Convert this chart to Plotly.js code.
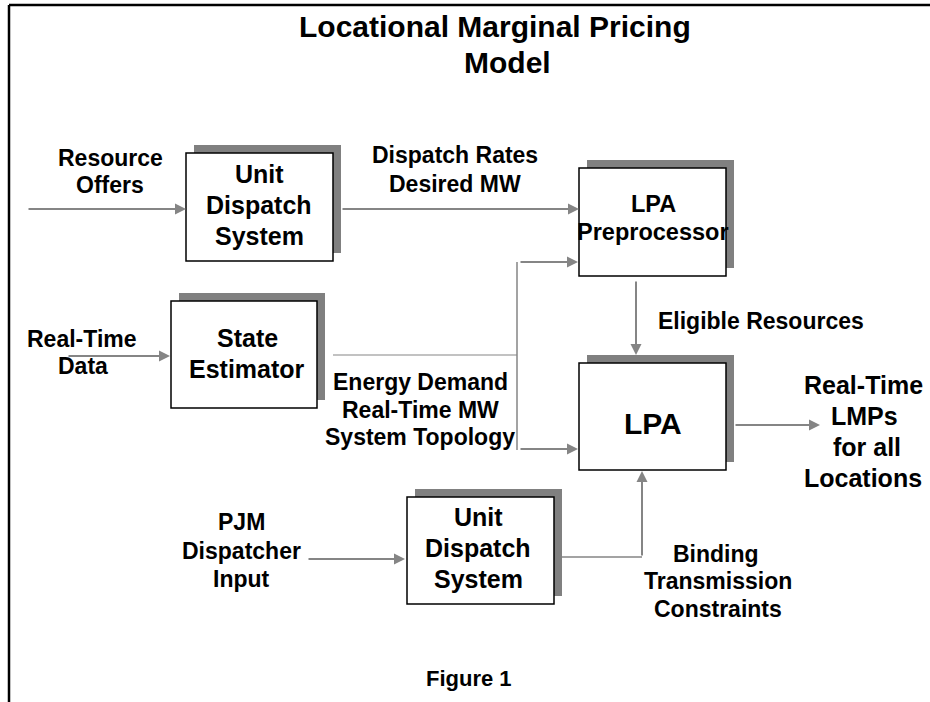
<!DOCTYPE html>
<html>
<head>
<meta charset="utf-8">
<script src="https://cdn.plot.ly/plotly-3.0.1.min.js"></script>
<style>html,body{margin:0;padding:0;background:#fff;}#chart{width:930px;height:702px;}</style>
</head>
<body>
<div id="chart"></div>
<script>
// ---- content (text of the diagram) ----
const titleLines = ["Locational Marginal Pricing", "Model"];
const boxTexts = [
  ["Unit", "Dispatch", "System"],
  ["LPA", "Preprocessor"],
  ["State", "Estimator"],
  ["LPA"],
  ["Unit", "Dispatch", "System"]
];
const flowLabels = [
  ["Resource", "Offers"],
  ["Dispatch Rates", "Desired MW"],
  ["Real-Time", "Data"],
  ["Energy Demand", "Real-Time MW", "System Topology"],
  ["Eligible Resources"],
  ["Real-Time", "LMPs", "for all", "Locations"],
  ["PJM", "Dispatcher", "Input"],
  ["Binding", "Transmission", "Constraints"]
];
const caption = "Figure 1";

// ---- layout geometry (pixel coordinates, y downward) ----
const boxGeom = [
  {x0:186, y0:153, x1:333, y1:261, cx:259, base:[183,214,245], size:25},
  {x0:579, y0:168, x1:726, y1:276, cx:653, base:[212,240], size:23.5},
  {x0:171, y0:301, x1:317, y1:408, cx:247, base:[347,378], size:25},
  {x0:579, y0:363, x1:726, y1:470, cx:653, base:[434], size:30},
  {x0:407, y0:497, x1:554, y1:604, cx:478, base:[526,557,588], size:25}
];
const labelGeom = [
  {cx:[110,110], base:[166,193], size:23},
  {cx:[455,455], base:[163,192], size:23},
  {cx:[82,83], base:[347,374], size:23},
  {cx:[420,420,420], base:[390,418,445], size:23},
  {cx:[761], base:[329], size:23},
  {cx:[863,864,867,863], base:[394,425,456,487], size:25},
  {cx:[241,241,241], base:[530,559,587], size:23},
  {cx:[716,718,718], base:[562,589,617], size:23}
];
const arrows = [
  [27,209,186,209],[341,209,579,209],[67,356,170,356],
  [519,262,578,262],[519,449,578,449],[636,280,636,355],
  [734,425,820,425],[307,559,405,559],[642,557,642,471]
];
const plainLines = [
  {p:[333,355,517,355], w:1.2},
  {p:[517,262,517,450], w:1.5},
  {p:[562,557,642,557], w:1.5}
];

const FONT = "Liberation Sans, Arial, Helvetica, sans-serif";
const GRAY = "#858585";
const shapes = [];
const annotations = [];

// frame
shapes.push({type:'line', x0:9, y0:5, x1:930, y1:5, line:{color:'#000', width:2.5}});
shapes.push({type:'line', x0:9, y0:5, x1:9, y1:702, line:{color:'#000', width:2.5}});

function textLine(t, x, base, size){
  annotations.push({x:x, y:base - 0.35*size, xref:'x', yref:'y', text:t, showarrow:false,
    xanchor:'center', yanchor:'middle', font:{family:FONT, size:size, color:'#000', weight:'bold'}});
}

boxGeom.forEach((b,i)=>{
  shapes.push({type:'rect', x0:b.x0+8, y0:b.y0-8, x1:b.x1+8, y1:b.y1-8, fillcolor:'#808080', line:{width:0}});
  shapes.push({type:'rect', x0:b.x0, y0:b.y0, x1:b.x1, y1:b.y1, fillcolor:'#ffffff', line:{color:'#000', width:1.5}});
  boxTexts[i].forEach((t,j)=> textLine(t, b.cx, b.base[j], b.size));
});

plainLines.forEach(l=>{
  shapes.push({type:'line', x0:l.p[0], y0:l.p[1], x1:l.p[2], y1:l.p[3], line:{color:GRAY, width:l.w}});
});

arrows.forEach(a=>{
  annotations.push({x:a[2], y:a[3], ax:a[0], ay:a[1], xref:'x', yref:'y', axref:'x', ayref:'y',
    text:'', showarrow:true, arrowhead:2, arrowsize:1.1, arrowwidth:2, arrowcolor:GRAY, standoff:0, startstandoff:0});
});

flowLabels.forEach((lines,i)=>{
  const g = labelGeom[i];
  lines.forEach((t,j)=> textLine(t, g.cx[j], g.base[j], g.size));
});

textLine(titleLines[0], 495, 37, 30);
textLine(titleLines[1], 507, 73, 30);
textLine(caption, 469, 686, 22);

const layout = {
  width:930, height:702,
  margin:{l:0, r:0, t:0, b:0},
  paper_bgcolor:'#fff', plot_bgcolor:'#fff',
  xaxis:{range:[0,930], visible:false, fixedrange:true},
  yaxis:{range:[702,0], visible:false, fixedrange:true},
  showlegend:false,
  shapes:shapes,
  annotations:annotations
};
Plotly.newPlot('chart', [], layout, {staticPlot:true, displayModeBar:false});
</script>
</body>
</html>
